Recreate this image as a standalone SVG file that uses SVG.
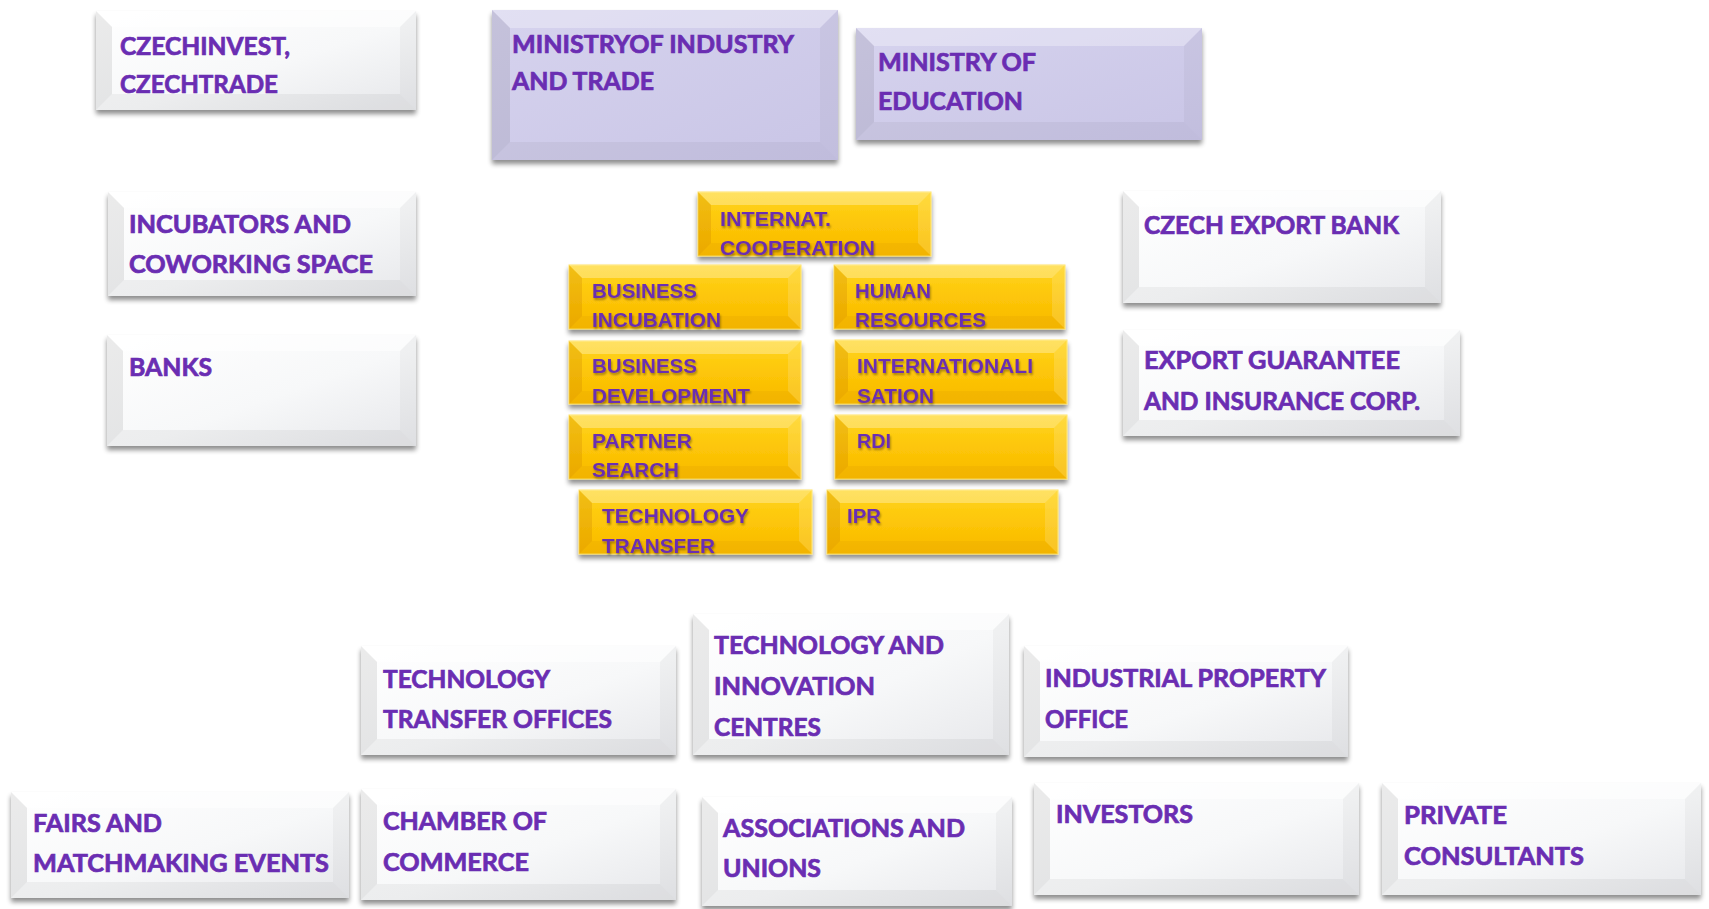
<svg xmlns="http://www.w3.org/2000/svg" width="1709" height="909" viewBox="0 0 1709 909">
<defs>
<linearGradient id="gW" x1="0" y1="0" x2="1" y2="1">
<stop offset="0" stop-color="#ffffff"/><stop offset="0.55" stop-color="#f7f8f9"/><stop offset="1" stop-color="#e6e7ea"/>
</linearGradient>
<linearGradient id="gL" x1="0" y1="0" x2="1" y2="1">
<stop offset="0" stop-color="#d6d3ee"/><stop offset="1" stop-color="#c9c5e6"/>
</linearGradient>
<linearGradient id="gO" x1="0" y1="0" x2="0" y2="1">
<stop offset="0" stop-color="#ffd51e"/><stop offset="0.5" stop-color="#fdc608"/><stop offset="1" stop-color="#f8b900"/>
</linearGradient>
<filter id="sh" x="-5%" y="-10%" width="110%" height="130%">
<feGaussianBlur in="SourceAlpha" stdDeviation="2.5"/>
<feOffset dy="4" result="o"/>
<feComponentTransfer><feFuncA type="linear" slope="0.45"/></feComponentTransfer>
<feMerge><feMergeNode/><feMergeNode in="SourceGraphic"/></feMerge>
</filter>
<filter id="tsh" x="-5%" y="-20%" width="110%" height="150%">
<feGaussianBlur in="SourceAlpha" stdDeviation="1"/>
<feOffset dx="1" dy="2"/>
<feComponentTransfer><feFuncA type="linear" slope="0.35"/></feComponentTransfer>
<feMerge><feMergeNode/><feMergeNode in="SourceGraphic"/></feMerge>
</filter>
</defs>
<style>
.face{filter:url(#sh)}
.white .face{fill:url(#gW)}
.lav .face{fill:url(#gL)}
.orange .face{fill:url(#gO);stroke:#ffe466;stroke-width:1}
.bt{fill:#fff;opacity:.5}
.bl{fill:#000;opacity:.08}
.br{fill:#000;opacity:.03}
.bb{fill:#000;opacity:.045}
.orange .bt{opacity:.3}
.orange .bl{fill:#c07000;opacity:.22}
.orange .br{fill:#fff;opacity:.15}
.orange .bb{fill:#c08000;opacity:.1}
.lav .bt{opacity:.3}
text{fill:#6a2db2;font-weight:bold}
.wt{font-family:Lato,"Open Sans","Liberation Sans",sans-serif;font-size:24px;stroke:#6a2db2;stroke-width:0.7}
.ot{font-family:"Liberation Sans",Arial,sans-serif;font-size:21px;filter:url(#tsh)}
</style>

<g id="czechinvest" class="white">
<rect class="face" x="96" y="11" width="320" height="99"/>
<polygon class="bt" points="96,11 416,11 400,27 112,27"/>
<polygon class="bl" points="96,11 112,27 112,94 96,110"/>
<polygon class="br" points="416,11 416,110 400,94 400,27"/>
<polygon class="bb" points="96,110 112,94 400,94 416,110"/>
<text class="wt" x="120" y="55" textLength="170" lengthAdjust="spacingAndGlyphs">CZECHINVEST,</text>
<text class="wt" x="120" y="93" textLength="158" lengthAdjust="spacingAndGlyphs">CZECHTRADE</text>
</g>

<g id="ministry-industry" class="lav">
<rect class="face" x="492" y="10" width="346" height="150"/>
<polygon class="bt" points="492,10 838,10 820,28 510,28"/>
<polygon class="bl" points="492,10 510,28 510,142 492,160"/>
<polygon class="br" points="838,10 838,160 820,142 820,28"/>
<polygon class="bb" points="492,160 510,142 820,142 838,160"/>
<text class="wt" x="512" y="53" textLength="282" lengthAdjust="spacingAndGlyphs">MINISTRYOF INDUSTRY</text>
<text class="wt" x="512" y="90" textLength="142" lengthAdjust="spacingAndGlyphs">AND TRADE</text>
</g>

<g id="ministry-education" class="lav">
<rect class="face" x="856" y="28" width="346" height="112"/>
<polygon class="bt" points="856,28 1202,28 1184,46 874,46"/>
<polygon class="bl" points="856,28 874,46 874,122 856,140"/>
<polygon class="br" points="1202,28 1202,140 1184,122 1184,46"/>
<polygon class="bb" points="856,140 874,122 1184,122 1202,140"/>
<text class="wt" x="878" y="71" textLength="158" lengthAdjust="spacingAndGlyphs">MINISTRY OF</text>
<text class="wt" x="878" y="110" textLength="145" lengthAdjust="spacingAndGlyphs">EDUCATION</text>
</g>

<g id="incubators" class="white">
<rect class="face" x="108" y="192" width="308" height="104"/>
<polygon class="bt" points="108,192 416,192 400,208 124,208"/>
<polygon class="bl" points="108,192 124,208 124,280 108,296"/>
<polygon class="br" points="416,192 416,296 400,280 400,208"/>
<polygon class="bb" points="108,296 124,280 400,280 416,296"/>
<text class="wt" x="129" y="233" textLength="222" lengthAdjust="spacingAndGlyphs">INCUBATORS AND</text>
<text class="wt" x="129" y="273" textLength="244" lengthAdjust="spacingAndGlyphs">COWORKING SPACE</text>
</g>

<g id="banks" class="white">
<rect class="face" x="107" y="335" width="309" height="111"/>
<polygon class="bt" points="107,335 416,335 400,351 123,351"/>
<polygon class="bl" points="107,335 123,351 123,430 107,446"/>
<polygon class="br" points="416,335 416,446 400,430 400,351"/>
<polygon class="bb" points="107,446 123,430 400,430 416,446"/>
<text class="wt" x="129" y="376" textLength="83" lengthAdjust="spacingAndGlyphs">BANKS</text>
</g>

<g id="czech-export-bank" class="white">
<rect class="face" x="1123" y="191" width="318" height="112"/>
<polygon class="bt" points="1123,191 1441,191 1425,207 1139,207"/>
<polygon class="bl" points="1123,191 1139,207 1139,287 1123,303"/>
<polygon class="br" points="1441,191 1441,303 1425,287 1425,207"/>
<polygon class="bb" points="1123,303 1139,287 1425,287 1441,303"/>
<text class="wt" x="1144" y="234" textLength="255" lengthAdjust="spacingAndGlyphs">CZECH EXPORT BANK</text>
</g>

<g id="egap" class="white">
<rect class="face" x="1123" y="330" width="337" height="106"/>
<polygon class="bt" points="1123,330 1460,330 1444,346 1139,346"/>
<polygon class="bl" points="1123,330 1139,346 1139,420 1123,436"/>
<polygon class="br" points="1460,330 1460,436 1444,420 1444,346"/>
<polygon class="bb" points="1123,436 1139,420 1444,420 1460,436"/>
<text class="wt" x="1144" y="369" textLength="256" lengthAdjust="spacingAndGlyphs">EXPORT GUARANTEE</text>
<text class="wt" x="1144" y="410" textLength="276" lengthAdjust="spacingAndGlyphs">AND INSURANCE CORP.</text>
</g>

<g id="internat-cooperation" class="orange">
<rect class="face" x="698" y="192" width="233" height="64"/>
<polygon class="bt" points="698,192 931,192 918,205 711,205"/>
<polygon class="bl" points="698,192 711,205 711,243 698,256"/>
<polygon class="br" points="931,192 931,256 918,243 918,205"/>
<polygon class="bb" points="698,256 711,243 918,243 931,256"/>
<text class="ot" x="720" y="226" textLength="111" lengthAdjust="spacingAndGlyphs">INTERNAT.</text>
<text class="ot" x="720" y="255" textLength="155" lengthAdjust="spacingAndGlyphs">COOPERATION</text>
</g>

<g id="business-incubation" class="orange">
<rect class="face" x="569" y="265" width="232" height="64"/>
<polygon class="bt" points="569,265 801,265 788,278 582,278"/>
<polygon class="bl" points="569,265 582,278 582,316 569,329"/>
<polygon class="br" points="801,265 801,329 788,316 788,278"/>
<polygon class="bb" points="569,329 582,316 788,316 801,329"/>
<text class="ot" x="592" y="298" textLength="105" lengthAdjust="spacingAndGlyphs">BUSINESS</text>
<text class="ot" x="592" y="327" textLength="129" lengthAdjust="spacingAndGlyphs">INCUBATION</text>
</g>

<g id="human-resources" class="orange">
<rect class="face" x="834" y="265" width="231" height="64"/>
<polygon class="bt" points="834,265 1065,265 1052,278 847,278"/>
<polygon class="bl" points="834,265 847,278 847,316 834,329"/>
<polygon class="br" points="1065,265 1065,329 1052,316 1052,278"/>
<polygon class="bb" points="834,329 847,316 1052,316 1065,329"/>
<text class="ot" x="855" y="298" textLength="76" lengthAdjust="spacingAndGlyphs">HUMAN</text>
<text class="ot" x="855" y="327" textLength="131" lengthAdjust="spacingAndGlyphs">RESOURCES</text>
</g>

<g id="business-development" class="orange">
<rect class="face" x="569" y="341" width="232" height="63"/>
<polygon class="bt" points="569,341 801,341 788,354 582,354"/>
<polygon class="bl" points="569,341 582,354 582,391 569,404"/>
<polygon class="br" points="801,341 801,404 788,391 788,354"/>
<polygon class="bb" points="569,404 582,391 788,391 801,404"/>
<text class="ot" x="592" y="373" textLength="105" lengthAdjust="spacingAndGlyphs">BUSINESS</text>
<text class="ot" x="592" y="403" textLength="158" lengthAdjust="spacingAndGlyphs">DEVELOPMENT</text>
</g>

<g id="internationalisation" class="orange">
<rect class="face" x="835" y="340" width="232" height="64"/>
<polygon class="bt" points="835,340 1067,340 1054,353 848,353"/>
<polygon class="bl" points="835,340 848,353 848,391 835,404"/>
<polygon class="br" points="1067,340 1067,404 1054,391 1054,353"/>
<polygon class="bb" points="835,404 848,391 1054,391 1067,404"/>
<text class="ot" x="857" y="373" textLength="176" lengthAdjust="spacingAndGlyphs">INTERNATIONALI</text>
<text class="ot" x="857" y="403" textLength="77" lengthAdjust="spacingAndGlyphs">SATION</text>
</g>

<g id="partner-search" class="orange">
<rect class="face" x="569" y="415" width="232" height="64"/>
<polygon class="bt" points="569,415 801,415 788,428 582,428"/>
<polygon class="bl" points="569,415 582,428 582,466 569,479"/>
<polygon class="br" points="801,415 801,479 788,466 788,428"/>
<polygon class="bb" points="569,479 582,466 788,466 801,479"/>
<text class="ot" x="592" y="448" textLength="100" lengthAdjust="spacingAndGlyphs">PARTNER</text>
<text class="ot" x="592" y="477" textLength="87" lengthAdjust="spacingAndGlyphs">SEARCH</text>
</g>

<g id="rdi" class="orange">
<rect class="face" x="835" y="415" width="232" height="64"/>
<polygon class="bt" points="835,415 1067,415 1054,428 848,428"/>
<polygon class="bl" points="835,415 848,428 848,466 835,479"/>
<polygon class="br" points="1067,415 1067,479 1054,466 1054,428"/>
<polygon class="bb" points="835,479 848,466 1054,466 1067,479"/>
<text class="ot" x="857" y="448" textLength="34" lengthAdjust="spacingAndGlyphs">RDI</text>
</g>

<g id="technology-transfer" class="orange">
<rect class="face" x="579" y="490" width="233" height="64"/>
<polygon class="bt" points="579,490 812,490 799,503 592,503"/>
<polygon class="bl" points="579,490 592,503 592,541 579,554"/>
<polygon class="br" points="812,490 812,554 799,541 799,503"/>
<polygon class="bb" points="579,554 592,541 799,541 812,554"/>
<text class="ot" x="602" y="523" textLength="147" lengthAdjust="spacingAndGlyphs">TECHNOLOGY</text>
<text class="ot" x="602" y="553" textLength="113" lengthAdjust="spacingAndGlyphs">TRANSFER</text>
</g>

<g id="ipr" class="orange">
<rect class="face" x="827" y="490" width="231" height="64"/>
<polygon class="bt" points="827,490 1058,490 1045,503 840,503"/>
<polygon class="bl" points="827,490 840,503 840,541 827,554"/>
<polygon class="br" points="1058,490 1058,554 1045,541 1045,503"/>
<polygon class="bb" points="827,554 840,541 1045,541 1058,554"/>
<text class="ot" x="847" y="523" textLength="34" lengthAdjust="spacingAndGlyphs">IPR</text>
</g>

<g id="tto" class="white">
<rect class="face" x="361" y="646" width="315" height="109"/>
<polygon class="bt" points="361,646 676,646 660,662 377,662"/>
<polygon class="bl" points="361,646 377,662 377,739 361,755"/>
<polygon class="br" points="676,646 676,755 660,739 660,662"/>
<polygon class="bb" points="361,755 377,739 660,739 676,755"/>
<text class="wt" x="383" y="688" textLength="167" lengthAdjust="spacingAndGlyphs">TECHNOLOGY</text>
<text class="wt" x="383" y="728" textLength="229" lengthAdjust="spacingAndGlyphs">TRANSFER OFFICES</text>
</g>

<g id="tic" class="white">
<rect class="face" x="693" y="614" width="316" height="141"/>
<polygon class="bt" points="693,614 1009,614 993,630 709,630"/>
<polygon class="bl" points="693,614 709,630 709,739 693,755"/>
<polygon class="br" points="1009,614 1009,755 993,739 993,630"/>
<polygon class="bb" points="693,755 709,739 993,739 1009,755"/>
<text class="wt" x="714" y="654" textLength="230" lengthAdjust="spacingAndGlyphs">TECHNOLOGY AND</text>
<text class="wt" x="714" y="695" textLength="161" lengthAdjust="spacingAndGlyphs">INNOVATION</text>
<text class="wt" x="714" y="736" textLength="107" lengthAdjust="spacingAndGlyphs">CENTRES</text>
</g>

<g id="ipo" class="white">
<rect class="face" x="1024" y="646" width="324" height="111"/>
<polygon class="bt" points="1024,646 1348,646 1332,662 1040,662"/>
<polygon class="bl" points="1024,646 1040,662 1040,741 1024,757"/>
<polygon class="br" points="1348,646 1348,757 1332,741 1332,662"/>
<polygon class="bb" points="1024,757 1040,741 1332,741 1348,757"/>
<text class="wt" x="1045" y="687" textLength="281" lengthAdjust="spacingAndGlyphs">INDUSTRIAL PROPERTY</text>
<text class="wt" x="1045" y="728" textLength="83" lengthAdjust="spacingAndGlyphs">OFFICE</text>
</g>

<g id="fairs" class="white">
<rect class="face" x="11" y="792" width="338" height="106"/>
<polygon class="bt" points="11,792 349,792 333,808 27,808"/>
<polygon class="bl" points="11,792 27,808 27,882 11,898"/>
<polygon class="br" points="349,792 349,898 333,882 333,808"/>
<polygon class="bb" points="11,898 27,882 333,882 349,898"/>
<text class="wt" x="33" y="832" textLength="129" lengthAdjust="spacingAndGlyphs">FAIRS AND</text>
<text class="wt" x="33" y="872" textLength="296" lengthAdjust="spacingAndGlyphs">MATCHMAKING EVENTS</text>
</g>

<g id="chamber" class="white">
<rect class="face" x="361" y="789" width="315" height="111"/>
<polygon class="bt" points="361,789 676,789 660,805 377,805"/>
<polygon class="bl" points="361,789 377,805 377,884 361,900"/>
<polygon class="br" points="676,789 676,900 660,884 660,805"/>
<polygon class="bb" points="361,900 377,884 660,884 676,900"/>
<text class="wt" x="383" y="830" textLength="164" lengthAdjust="spacingAndGlyphs">CHAMBER OF</text>
<text class="wt" x="383" y="871" textLength="146" lengthAdjust="spacingAndGlyphs">COMMERCE</text>
</g>

<g id="associations" class="white">
<rect class="face" x="702" y="797" width="310" height="109"/>
<polygon class="bt" points="702,797 1012,797 996,813 718,813"/>
<polygon class="bl" points="702,797 718,813 718,890 702,906"/>
<polygon class="br" points="1012,797 1012,906 996,890 996,813"/>
<polygon class="bb" points="702,906 718,890 996,890 1012,906"/>
<text class="wt" x="723" y="837" textLength="242" lengthAdjust="spacingAndGlyphs">ASSOCIATIONS AND</text>
<text class="wt" x="723" y="877" textLength="98" lengthAdjust="spacingAndGlyphs">UNIONS</text>
</g>

<g id="investors" class="white">
<rect class="face" x="1034" y="783" width="325" height="112"/>
<polygon class="bt" points="1034,783 1359,783 1343,799 1050,799"/>
<polygon class="bl" points="1034,783 1050,799 1050,879 1034,895"/>
<polygon class="br" points="1359,783 1359,895 1343,879 1343,799"/>
<polygon class="bb" points="1034,895 1050,879 1343,879 1359,895"/>
<text class="wt" x="1056" y="823" textLength="137" lengthAdjust="spacingAndGlyphs">INVESTORS</text>
</g>

<g id="private-consultants" class="white">
<rect class="face" x="1382" y="783" width="319" height="112"/>
<polygon class="bt" points="1382,783 1701,783 1685,799 1398,799"/>
<polygon class="bl" points="1382,783 1398,799 1398,879 1382,895"/>
<polygon class="br" points="1701,783 1701,895 1685,879 1685,799"/>
<polygon class="bb" points="1382,895 1398,879 1685,879 1701,895"/>
<text class="wt" x="1404" y="824" textLength="103" lengthAdjust="spacingAndGlyphs">PRIVATE</text>
<text class="wt" x="1404" y="865" textLength="180" lengthAdjust="spacingAndGlyphs">CONSULTANTS</text>
</g>
</svg>
